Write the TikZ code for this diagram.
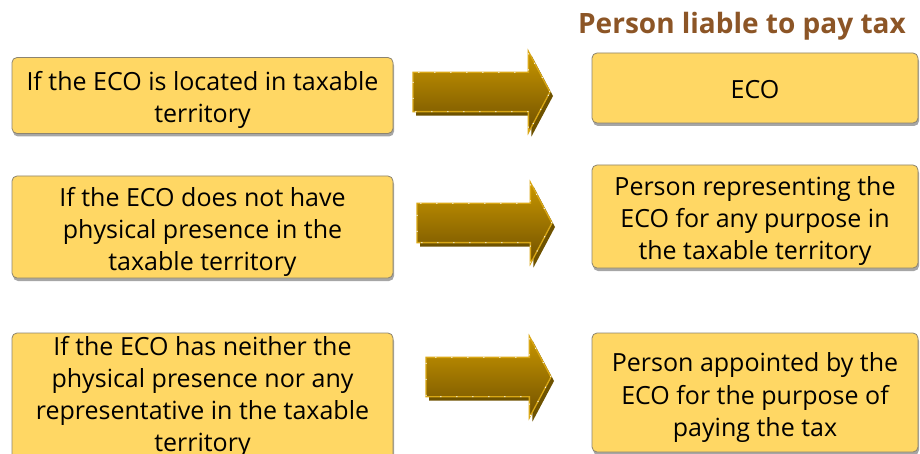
\documentclass[tikz,border=0pt]{standalone}
\usepackage{fontspec}
\setmainfont{Open Sans}
\usetikzlibrary{shapes.arrows,shadows}
\definecolor{boxfill}{HTML}{FFD764}
\definecolor{boxline}{HTML}{8C8470}
\definecolor{titlebrown}{HTML}{8C5526}
\definecolor{gtop}{HTML}{C99700}
\definecolor{gbot}{HTML}{705000}
\definecolor{gline}{HTML}{D9A716}
\definecolor{gshadow}{HTML}{6E5200}
\newcommand{\topstrut}[1]{\rule{0pt}{#1}}
\newcommand{\botstrut}[1]{\rule[-#1]{0pt}{0pt}}
\tikzset{
  infobox/.style={draw=boxline, line width=0.8pt, fill=boxfill, rounded corners=5pt,
    align=center, inner sep=0pt, outer sep=0pt,
    font=\fontsize{25}{32}\selectfont,
    drop shadow={shadow xshift=1pt, shadow yshift=-3pt, opacity=0.35, fill=black}},
  goldarrow/.style={single arrow, anchor=tip, inner xsep=0pt, inner ysep=19pt, outer sep=0pt,
    single arrow head extend=21pt, single arrow tip angle=124,
    single arrow head indent=0pt,
    top color=gtop, bottom color=gbot, draw=gline, line width=1.3pt,
    drop shadow={shadow xshift=3pt, shadow yshift=-4pt, opacity=1, fill=gshadow},
    postaction={draw=white, line width=1pt, dash pattern=on 1pt off 15pt}},
}
\begin{document}
\begin{tikzpicture}[x=1pt,y=-1pt]
\useasboundingbox (0,0) rectangle (920,454);
\clip (0,0) rectangle (920,454);
\node[font=\fontsize{28}{32}\selectfont\bfseries, text=titlebrown, anchor=base] (title) at (742,34) {Person liable to pay tax};
\node[infobox, minimum width=381pt, minimum height=76pt] (l1) at (202.5,95.5) {\topstrut{28pt}If the ECO is located in taxable\\territory};
\node[infobox, minimum width=381pt, minimum height=102pt] (l2) at (202.5,227) {\topstrut{29pt}If the ECO does not have\\physical presence in the\\taxable territory};
\node[infobox, minimum width=381pt, minimum height=137pt] (l3) at (202.5,401.5) {If the ECO has neither the\\physical presence nor any\\representative in the taxable\\territory\botstrut{15pt}};
\node[infobox, minimum width=326pt, minimum height=70pt] (r1) at (755,88) {\topstrut{22pt}ECO};
\node[infobox, minimum width=326pt, minimum height=103pt] (r2) at (755,216.5) {\topstrut{29pt}Person representing the\\ECO for any purpose in\\the taxable territory};
\node[infobox, minimum width=326pt, minimum height=119pt] (r3) at (755,392.5) {\topstrut{29pt}Person appointed by the\\ECO for the purpose of\\paying the tax};
\node[goldarrow, minimum height=137pt] (a1) at (550,92) {};
\node[goldarrow, minimum height=135pt] (a2) at (552,223) {};
\node[goldarrow, minimum height=125pt] (a3) at (551,377) {};
\end{tikzpicture}
\end{document}
